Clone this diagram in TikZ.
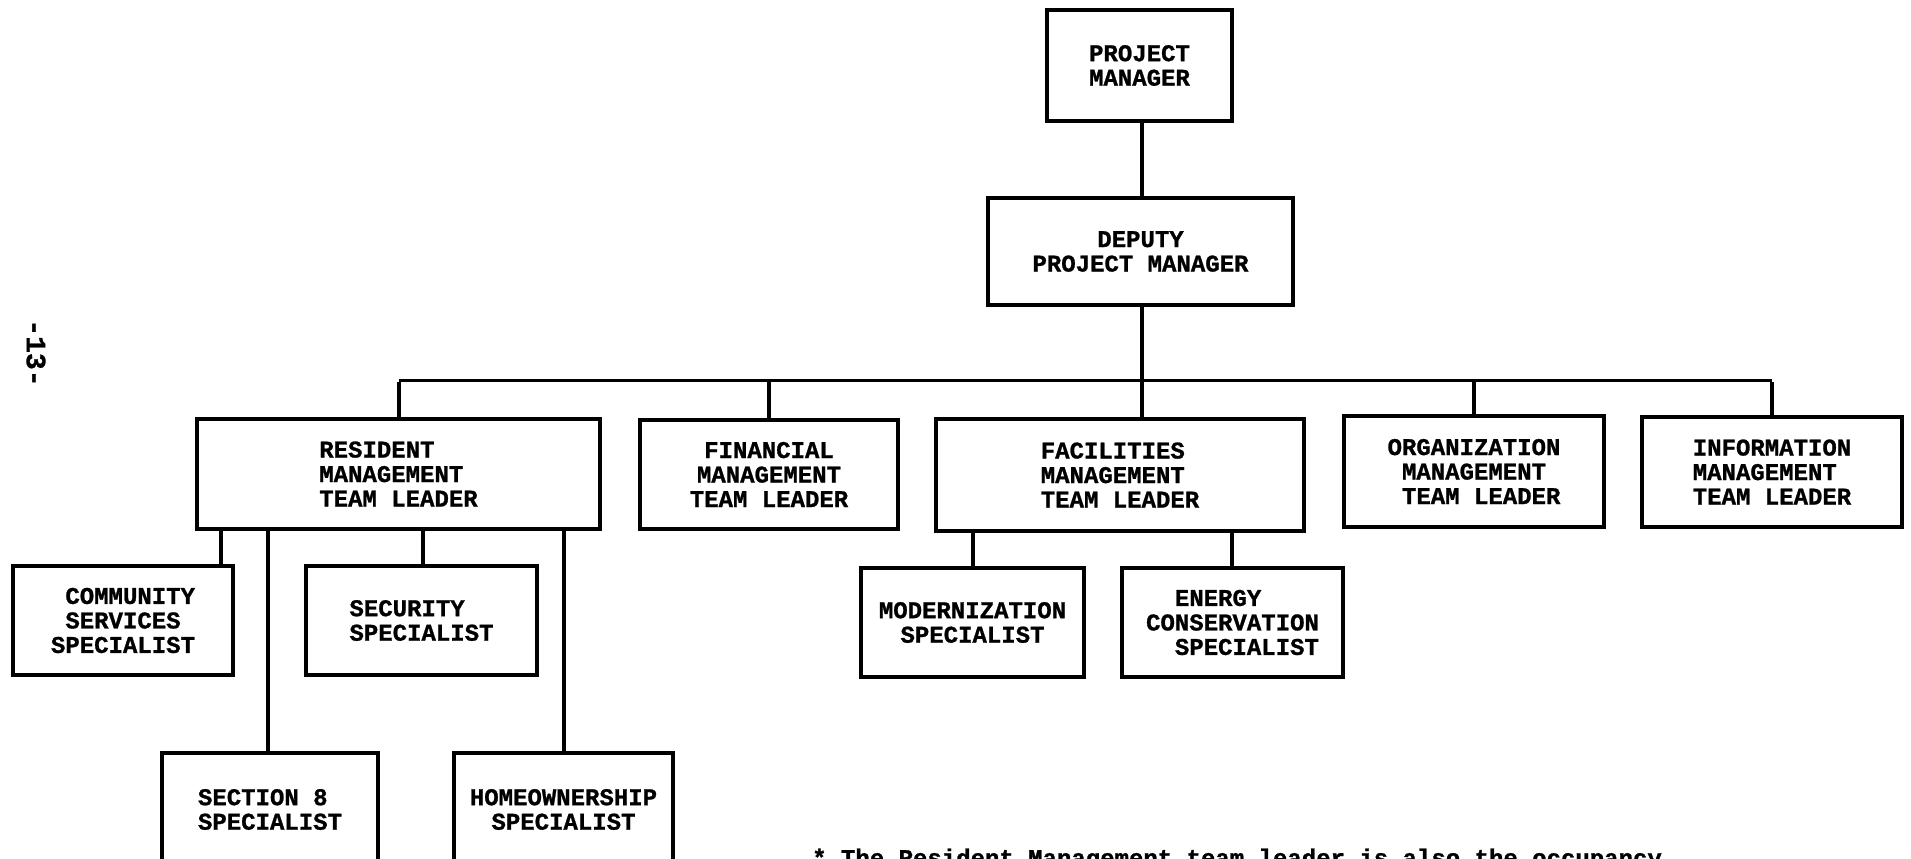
\documentclass[tikz,border=0pt]{standalone}
\usepackage{fontspec}
\newfontfamily\tw{Liberation Mono}[BoldFeatures={FakeBold=1}]
\begin{document}
\begin{tikzpicture}[x=1pt,y=-1pt,
  txt/.style={font=\tw\bfseries\fontsize{24}{24.5}\selectfont},
  box/.style={txt, draw, line width=4pt, inner sep=0pt, align=center},
  boxl/.style={box, align=left},
  conn/.style={line width=3.5pt},
  bus/.style={line width=3pt}]
\useasboundingbox (0,0) rectangle (1911,859);

% boxes
\node[box, minimum width=185pt, minimum height=111pt] (pm) at (1139.5,65.5) {PROJECT\\MANAGER};
\node[box, minimum width=305pt, minimum height=107pt] (dpm) at (1140.5,251.5) {DEPUTY\\PROJECT MANAGER};

\node[boxl, minimum width=403pt, minimum height=110pt] (res) at (398.5,474) {RESIDENT\\MANAGEMENT\\TEAM LEADER};
\node[box, minimum width=258pt, minimum height=109pt] (fin) at (769,474.5) {FINANCIAL\\MANAGEMENT\\TEAM LEADER};
\node[boxl, minimum width=368pt, minimum height=112pt] (fac) at (1120,475) {FACILITIES\\MANAGEMENT\\TEAM LEADER};
\node[box, minimum width=260pt, minimum height=111pt] (org) at (1474,471.5) {ORGANIZATION\\MANAGEMENT\\\hphantom{T}TEAM LEADER};
\node[boxl, minimum width=260pt, minimum height=110pt] (inf) at (1772,472) {INFORMATION\\MANAGEMENT\\TEAM LEADER};

\node[boxl, minimum width=220pt, minimum height=109pt] (com) at (123,620.5) {\hphantom{S}COMMUNITY\\\hphantom{S}SERVICES\\SPECIALIST};
\node[boxl, minimum width=231pt, minimum height=109pt] (sec) at (421.5,620.5) {SECURITY\\SPECIALIST};
\node[boxl, minimum width=216pt, minimum height=113pt] (s8) at (270,809.5) {SECTION 8\\SPECIALIST};
\node[box, minimum width=219pt, minimum height=113pt] (home) at (563.5,809.5) {HOMEOWNERSHIP\\SPECIALIST};

\node[box, minimum width=223pt, minimum height=109pt] (mod) at (972.5,622.5) {MODERNIZATION\\SPECIALIST};
\node[boxl, minimum width=221pt, minimum height=109pt] (ene) at (1232.5,622.5) {\hphantom{CO}ENERGY\\CONSERVATION\\\hphantom{CO}SPECIALIST};

% page number and footnote
\node[font=\tw\bfseries\fontsize{28}{28}\selectfont, rotate=-90, inner sep=0pt] (pg) at (36,353) {-13-};
\node[txt, anchor=base west, inner sep=0pt] (fn) at (812,866) {* The Resident Management team leader is also the occupancy};

% connectors
\coordinate (busL) at (399,380);
\coordinate (busR) at (1772,380);
\coordinate (xcom) at (221,0);
\coordinate (xs8) at (268,0);
\coordinate (xsec) at (423,0);
\coordinate (xhome) at (564,0);
\coordinate (xmod) at (973,0);
\coordinate (xene) at (1232,0);
\coordinate (xmain) at (1142,0);

\draw[conn] (xmain |- pm.south) -- (xmain |- dpm.north);
\draw[conn] (xmain |- dpm.south) -- (xmain |- fac.north);
\draw[bus] (busL) -- (busR);
\draw[conn] ([yshift=-1.5pt]busL) -- (busL |- res.north);
\draw[conn] (fin.north |- busL) -- (fin.north);
\draw[conn] (org.north |- busL) -- (org.north);
\draw[conn] ([yshift=-1.5pt]busR) -- (busR |- inf.north);

\draw[conn] (xcom |- res.south) -- (xcom |- com.north);
\draw[conn] (xs8 |- res.south) -- (xs8 |- s8.north);
\draw[conn] (xsec |- res.south) -- (xsec |- sec.north);
\draw[conn] (xhome |- res.south) -- (xhome |- home.north);
\draw[conn] (xmod |- fac.south) -- (xmod |- mod.north);
\draw[conn] (xene |- fac.south) -- (xene |- ene.north);
\end{tikzpicture}
\end{document}
